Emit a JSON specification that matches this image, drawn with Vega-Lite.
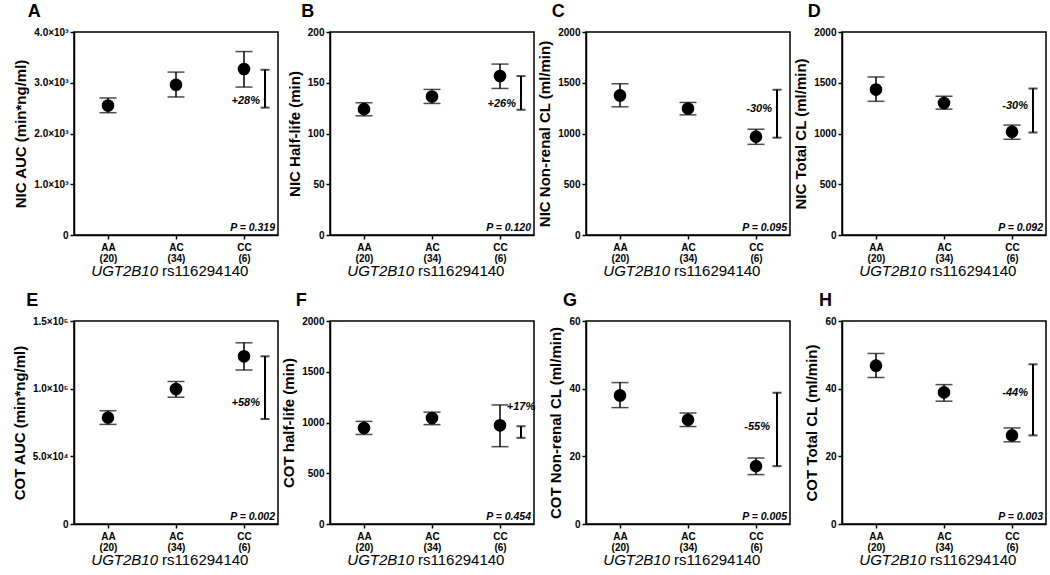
{
"$schema":"https://vega.github.io/schema/vega-lite/v6.json",
"padding":{"left":11,"top":2,"right":0,"bottom":0},
"background":"white",
"columns":4,
"spacing":{"row":86,"column":52},
"bounds":"flush",
"concat":[
{"width":204,"height":203,"title":"A",
 "data":{"values":[{"g":"AA","mean":2550,"lo":2410,"hi":2700},{"g":"AC","mean":2960,"lo":2720,"hi":3210},{"g":"CC","mean":3270,"lo":2915,"hi":3615}]},
 "encoding":{"x":{"field":"g","type":"nominal","scale":{"type":"point","padding":0.5,"domain":["AA","AC","CC"]},"axis":{"title":null,"labelExpr":"datum.value == 'AA' ? ['AA','(20)'] : datum.value == 'AC' ? ['AC','(34)'] : ['CC','(6)']"}}},
 "layer":[
  {"mark":{"type":"rule","color":"black","strokeWidth":1.5},"encoding":{"y":{"field":"lo","type":"quantitative"},"y2":{"field":"hi"}}},
  {"mark":{"type":"tick","color":"black","size":17,"thickness":1.5},"encoding":{"y":{"field":"lo","type":"quantitative"}}},
  {"mark":{"type":"tick","color":"black","size":17,"thickness":1.5},"encoding":{"y":{"field":"hi","type":"quantitative"}}},
  {"mark":{"type":"circle","color":"black","opacity":1,"size":160},"encoding":{"y":{"field":"mean","type":"quantitative","scale":{"domain":[0,4000],"nice":false},"axis":{"title":"NIC AUC (min*ng/ml)","values":[0,1000,2000,3000,4000],"labelExpr":"datum.value == 0 ? '0' : format(datum.value/1000,'.1f') + '×10³'"}}}},
  {"data":{"values":[{"top":3255,"bottom":2510,"pct":"+28%","py":2650,"p":"P = 0.319"}]},
   "layer":[
    {"mark":{"type":"rule","color":"black","strokeWidth":2,"xOffset":21},"encoding":{"x":{"datum":"CC"},"y":{"field":"top","type":"quantitative"},"y2":{"field":"bottom"}}},
    {"mark":{"type":"tick","color":"black","size":9,"thickness":2,"xOffset":21},"encoding":{"x":{"datum":"CC"},"y":{"field":"top","type":"quantitative"}}},
    {"mark":{"type":"tick","color":"black","size":9,"thickness":2,"xOffset":21},"encoding":{"x":{"datum":"CC"},"y":{"field":"bottom","type":"quantitative"}}},
    {"mark":{"type":"text","align":"right","baseline":"middle","dx":16,"fontSize":11,"fontStyle":"italic","fontWeight":"bold"},"encoding":{"x":{"datum":"CC"},"y":{"field":"py","type":"quantitative"},"text":{"field":"pct"}}},
    {"mark":{"type":"text","align":"right","baseline":"alphabetic","dx":31,"dy":-4,"fontSize":10.5,"fontStyle":"italic","fontWeight":"bold"},"encoding":{"x":{"datum":"CC"},"y":{"datum":0},"text":{"field":"p"}}},
    {"mark":{"type":"text","text":"UGT2B10","align":"right","baseline":"middle","dx":-18,"dy":36,"fontSize":15,"fontStyle":"italic"},"encoding":{"x":{"datum":"AC"},"y":{"datum":0}}},
    {"mark":{"type":"text","text":"rs116294140","align":"left","baseline":"middle","dx":-14,"dy":36,"fontSize":15},"encoding":{"x":{"datum":"AC"},"y":{"datum":0}}}
   ]}
 ]},
{"width":204,"height":203,"title":"B",
 "data":{"values":[{"g":"AA","mean":124,"lo":117.4,"hi":130.3},{"g":"AC","mean":136.5,"lo":129.6,"hi":143.4},{"g":"CC","mean":156.6,"lo":144.4,"hi":168.4}]},
 "encoding":{"x":{"field":"g","type":"nominal","scale":{"type":"point","padding":0.5,"domain":["AA","AC","CC"]},"axis":{"title":null,"labelExpr":"datum.value == 'AA' ? ['AA','(20)'] : datum.value == 'AC' ? ['AC','(34)'] : ['CC','(6)']"}}},
 "layer":[
  {"mark":{"type":"rule","color":"black","strokeWidth":1.5},"encoding":{"y":{"field":"lo","type":"quantitative"},"y2":{"field":"hi"}}},
  {"mark":{"type":"tick","color":"black","size":17,"thickness":1.5},"encoding":{"y":{"field":"lo","type":"quantitative"}}},
  {"mark":{"type":"tick","color":"black","size":17,"thickness":1.5},"encoding":{"y":{"field":"hi","type":"quantitative"}}},
  {"mark":{"type":"circle","color":"black","opacity":1,"size":160},"encoding":{"y":{"field":"mean","type":"quantitative","scale":{"domain":[0,200],"nice":false},"axis":{"title":"NIC Half-life (min)","values":[0,50,100,150,200],"format":"d"}}}},
  {"data":{"values":[{"top":156.6,"bottom":123.4,"pct":"+26%","py":129,"p":"P = 0.120"}]},
   "layer":[
    {"mark":{"type":"rule","color":"black","strokeWidth":2,"xOffset":21},"encoding":{"x":{"datum":"CC"},"y":{"field":"top","type":"quantitative"},"y2":{"field":"bottom"}}},
    {"mark":{"type":"tick","color":"black","size":9,"thickness":2,"xOffset":21},"encoding":{"x":{"datum":"CC"},"y":{"field":"top","type":"quantitative"}}},
    {"mark":{"type":"tick","color":"black","size":9,"thickness":2,"xOffset":21},"encoding":{"x":{"datum":"CC"},"y":{"field":"bottom","type":"quantitative"}}},
    {"mark":{"type":"text","align":"right","baseline":"middle","dx":16,"fontSize":11,"fontStyle":"italic","fontWeight":"bold"},"encoding":{"x":{"datum":"CC"},"y":{"field":"py","type":"quantitative"},"text":{"field":"pct"}}},
    {"mark":{"type":"text","align":"right","baseline":"alphabetic","dx":31,"dy":-4,"fontSize":10.5,"fontStyle":"italic","fontWeight":"bold"},"encoding":{"x":{"datum":"CC"},"y":{"datum":0},"text":{"field":"p"}}},
    {"mark":{"type":"text","text":"UGT2B10","align":"right","baseline":"middle","dx":-18,"dy":36,"fontSize":15,"fontStyle":"italic"},"encoding":{"x":{"datum":"AC"},"y":{"datum":0}}},
    {"mark":{"type":"text","text":"rs116294140","align":"left","baseline":"middle","dx":-14,"dy":36,"fontSize":15},"encoding":{"x":{"datum":"AC"},"y":{"datum":0}}}
   ]}
 ]},
{"width":204,"height":203,"title":"C",
 "data":{"values":[{"g":"AA","mean":1375,"lo":1263,"hi":1490},{"g":"AC","mean":1246,"lo":1184,"hi":1306},{"g":"CC","mean":969,"lo":893,"hi":1042}]},
 "encoding":{"x":{"field":"g","type":"nominal","scale":{"type":"point","padding":0.5,"domain":["AA","AC","CC"]},"axis":{"title":null,"labelExpr":"datum.value == 'AA' ? ['AA','(20)'] : datum.value == 'AC' ? ['AC','(34)'] : ['CC','(6)']"}}},
 "layer":[
  {"mark":{"type":"rule","color":"black","strokeWidth":1.5},"encoding":{"y":{"field":"lo","type":"quantitative"},"y2":{"field":"hi"}}},
  {"mark":{"type":"tick","color":"black","size":17,"thickness":1.5},"encoding":{"y":{"field":"lo","type":"quantitative"}}},
  {"mark":{"type":"tick","color":"black","size":17,"thickness":1.5},"encoding":{"y":{"field":"hi","type":"quantitative"}}},
  {"mark":{"type":"circle","color":"black","opacity":1,"size":160},"encoding":{"y":{"field":"mean","type":"quantitative","scale":{"domain":[0,2000],"nice":false},"axis":{"title":"NIC Non-renal CL (ml/min)","values":[0,500,1000,1500,2000],"format":"d"}}}},
  {"data":{"values":[{"top":1431,"bottom":959,"pct":"-30%","py":1240,"p":"P = 0.095"}]},
   "layer":[
    {"mark":{"type":"rule","color":"black","strokeWidth":2,"xOffset":21},"encoding":{"x":{"datum":"CC"},"y":{"field":"top","type":"quantitative"},"y2":{"field":"bottom"}}},
    {"mark":{"type":"tick","color":"black","size":9,"thickness":2,"xOffset":21},"encoding":{"x":{"datum":"CC"},"y":{"field":"top","type":"quantitative"}}},
    {"mark":{"type":"tick","color":"black","size":9,"thickness":2,"xOffset":21},"encoding":{"x":{"datum":"CC"},"y":{"field":"bottom","type":"quantitative"}}},
    {"mark":{"type":"text","align":"right","baseline":"middle","dx":16,"fontSize":11,"fontStyle":"italic","fontWeight":"bold"},"encoding":{"x":{"datum":"CC"},"y":{"field":"py","type":"quantitative"},"text":{"field":"pct"}}},
    {"mark":{"type":"text","align":"right","baseline":"alphabetic","dx":31,"dy":-4,"fontSize":10.5,"fontStyle":"italic","fontWeight":"bold"},"encoding":{"x":{"datum":"CC"},"y":{"datum":0},"text":{"field":"p"}}},
    {"mark":{"type":"text","text":"UGT2B10","align":"right","baseline":"middle","dx":-18,"dy":36,"fontSize":15,"fontStyle":"italic"},"encoding":{"x":{"datum":"AC"},"y":{"datum":0}}},
    {"mark":{"type":"text","text":"rs116294140","align":"left","baseline":"middle","dx":-14,"dy":36,"fontSize":15},"encoding":{"x":{"datum":"AC"},"y":{"datum":0}}}
   ]}
 ]},
{"width":204,"height":203,"title":"D",
 "data":{"values":[{"g":"AA","mean":1433,"lo":1317,"hi":1557},{"g":"AC","mean":1300,"lo":1240,"hi":1367},{"g":"CC","mean":1017,"lo":943,"hi":1083}]},
 "encoding":{"x":{"field":"g","type":"nominal","scale":{"type":"point","padding":0.5,"domain":["AA","AC","CC"]},"axis":{"title":null,"labelExpr":"datum.value == 'AA' ? ['AA','(20)'] : datum.value == 'AC' ? ['AC','(34)'] : ['CC','(6)']"}}},
 "layer":[
  {"mark":{"type":"rule","color":"black","strokeWidth":1.5},"encoding":{"y":{"field":"lo","type":"quantitative"},"y2":{"field":"hi"}}},
  {"mark":{"type":"tick","color":"black","size":17,"thickness":1.5},"encoding":{"y":{"field":"lo","type":"quantitative"}}},
  {"mark":{"type":"tick","color":"black","size":17,"thickness":1.5},"encoding":{"y":{"field":"hi","type":"quantitative"}}},
  {"mark":{"type":"circle","color":"black","opacity":1,"size":160},"encoding":{"y":{"field":"mean","type":"quantitative","scale":{"domain":[0,2000],"nice":false},"axis":{"title":"NIC Total CL (ml/min)","values":[0,500,1000,1500,2000],"format":"d"}}}},
  {"data":{"values":[{"top":1443,"bottom":1010,"pct":"-30%","py":1267,"p":"P = 0.092"}]},
   "layer":[
    {"mark":{"type":"rule","color":"black","strokeWidth":2,"xOffset":21},"encoding":{"x":{"datum":"CC"},"y":{"field":"top","type":"quantitative"},"y2":{"field":"bottom"}}},
    {"mark":{"type":"tick","color":"black","size":9,"thickness":2,"xOffset":21},"encoding":{"x":{"datum":"CC"},"y":{"field":"top","type":"quantitative"}}},
    {"mark":{"type":"tick","color":"black","size":9,"thickness":2,"xOffset":21},"encoding":{"x":{"datum":"CC"},"y":{"field":"bottom","type":"quantitative"}}},
    {"mark":{"type":"text","align":"right","baseline":"middle","dx":16,"fontSize":11,"fontStyle":"italic","fontWeight":"bold"},"encoding":{"x":{"datum":"CC"},"y":{"field":"py","type":"quantitative"},"text":{"field":"pct"}}},
    {"mark":{"type":"text","align":"right","baseline":"alphabetic","dx":31,"dy":-4,"fontSize":10.5,"fontStyle":"italic","fontWeight":"bold"},"encoding":{"x":{"datum":"CC"},"y":{"datum":0},"text":{"field":"p"}}},
    {"mark":{"type":"text","text":"UGT2B10","align":"right","baseline":"middle","dx":-18,"dy":36,"fontSize":15,"fontStyle":"italic"},"encoding":{"x":{"datum":"AC"},"y":{"datum":0}}},
    {"mark":{"type":"text","text":"rs116294140","align":"left","baseline":"middle","dx":-14,"dy":36,"fontSize":15},"encoding":{"x":{"datum":"AC"},"y":{"datum":0}}}
   ]}
 ]},
{"width":204,"height":203,"title":"E",
 "data":{"values":[{"g":"AA","mean":78600,"lo":73600,"hi":83700},{"g":"AC","mean":99700,"lo":93700,"hi":105300},{"g":"CC","mean":123900,"lo":113800,"hi":133900}]},
 "encoding":{"x":{"field":"g","type":"nominal","scale":{"type":"point","padding":0.5,"domain":["AA","AC","CC"]},"axis":{"title":null,"labelExpr":"datum.value == 'AA' ? ['AA','(20)'] : datum.value == 'AC' ? ['AC','(34)'] : ['CC','(6)']"}}},
 "layer":[
  {"mark":{"type":"rule","color":"black","strokeWidth":1.5},"encoding":{"y":{"field":"lo","type":"quantitative"},"y2":{"field":"hi"}}},
  {"mark":{"type":"tick","color":"black","size":17,"thickness":1.5},"encoding":{"y":{"field":"lo","type":"quantitative"}}},
  {"mark":{"type":"tick","color":"black","size":17,"thickness":1.5},"encoding":{"y":{"field":"hi","type":"quantitative"}}},
  {"mark":{"type":"circle","color":"black","opacity":1,"size":160},"encoding":{"y":{"field":"mean","type":"quantitative","scale":{"domain":[0,150000],"nice":false},"axis":{"title":"COT AUC (min*ng/ml)","values":[0,50000,100000,150000],"labelExpr":"datum.value == 0 ? '0' : datum.value < 100000 ? format(datum.value/10000,'.1f') + '×10⁴' : format(datum.value/100000,'.1f') + '×10⁵'"}}}},
  {"data":{"values":[{"top":123900,"bottom":77600,"pct":"+58%","py":89200,"p":"P = 0.002"}]},
   "layer":[
    {"mark":{"type":"rule","color":"black","strokeWidth":2,"xOffset":21},"encoding":{"x":{"datum":"CC"},"y":{"field":"top","type":"quantitative"},"y2":{"field":"bottom"}}},
    {"mark":{"type":"tick","color":"black","size":9,"thickness":2,"xOffset":21},"encoding":{"x":{"datum":"CC"},"y":{"field":"top","type":"quantitative"}}},
    {"mark":{"type":"tick","color":"black","size":9,"thickness":2,"xOffset":21},"encoding":{"x":{"datum":"CC"},"y":{"field":"bottom","type":"quantitative"}}},
    {"mark":{"type":"text","align":"right","baseline":"middle","dx":16,"fontSize":11,"fontStyle":"italic","fontWeight":"bold"},"encoding":{"x":{"datum":"CC"},"y":{"field":"py","type":"quantitative"},"text":{"field":"pct"}}},
    {"mark":{"type":"text","align":"right","baseline":"alphabetic","dx":31,"dy":-4,"fontSize":10.5,"fontStyle":"italic","fontWeight":"bold"},"encoding":{"x":{"datum":"CC"},"y":{"datum":0},"text":{"field":"p"}}},
    {"mark":{"type":"text","text":"UGT2B10","align":"right","baseline":"middle","dx":-18,"dy":36,"fontSize":15,"fontStyle":"italic"},"encoding":{"x":{"datum":"AC"},"y":{"datum":0}}},
    {"mark":{"type":"text","text":"rs116294140","align":"left","baseline":"middle","dx":-14,"dy":36,"fontSize":15},"encoding":{"x":{"datum":"AC"},"y":{"datum":0}}}
   ]}
 ]},
{"width":204,"height":203,"title":"F",
 "data":{"values":[{"g":"AA","mean":946,"lo":882,"hi":1011},{"g":"AC","mean":1044,"lo":979,"hi":1102},{"g":"CC","mean":972,"lo":762,"hi":1173}]},
 "encoding":{"x":{"field":"g","type":"nominal","scale":{"type":"point","padding":0.5,"domain":["AA","AC","CC"]},"axis":{"title":null,"labelExpr":"datum.value == 'AA' ? ['AA','(20)'] : datum.value == 'AC' ? ['AC','(34)'] : ['CC','(6)']"}}},
 "layer":[
  {"mark":{"type":"rule","color":"black","strokeWidth":1.5},"encoding":{"y":{"field":"lo","type":"quantitative"},"y2":{"field":"hi"}}},
  {"mark":{"type":"tick","color":"black","size":17,"thickness":1.5},"encoding":{"y":{"field":"lo","type":"quantitative"}}},
  {"mark":{"type":"tick","color":"black","size":17,"thickness":1.5},"encoding":{"y":{"field":"hi","type":"quantitative"}}},
  {"mark":{"type":"circle","color":"black","opacity":1,"size":160},"encoding":{"y":{"field":"mean","type":"quantitative","scale":{"domain":[0,2000],"nice":false},"axis":{"title":"COT half-life (min)","values":[0,500,1000,1500,2000],"format":"d"}}}},
  {"data":{"values":[{"top":963,"bottom":849,"pct":"+17%","py":1157,"p":"P = 0.454"}]},
   "layer":[
    {"mark":{"type":"rule","color":"black","strokeWidth":2,"xOffset":21},"encoding":{"x":{"datum":"CC"},"y":{"field":"top","type":"quantitative"},"y2":{"field":"bottom"}}},
    {"mark":{"type":"tick","color":"black","size":9,"thickness":2,"xOffset":21},"encoding":{"x":{"datum":"CC"},"y":{"field":"top","type":"quantitative"}}},
    {"mark":{"type":"tick","color":"black","size":9,"thickness":2,"xOffset":21},"encoding":{"x":{"datum":"CC"},"y":{"field":"bottom","type":"quantitative"}}},
    {"mark":{"type":"text","align":"center","baseline":"middle","dx":21,"fontSize":11,"fontStyle":"italic","fontWeight":"bold"},"encoding":{"x":{"datum":"CC"},"y":{"field":"py","type":"quantitative"},"text":{"field":"pct"}}},
    {"mark":{"type":"text","align":"right","baseline":"alphabetic","dx":31,"dy":-4,"fontSize":10.5,"fontStyle":"italic","fontWeight":"bold"},"encoding":{"x":{"datum":"CC"},"y":{"datum":0},"text":{"field":"p"}}},
    {"mark":{"type":"text","text":"UGT2B10","align":"right","baseline":"middle","dx":-18,"dy":36,"fontSize":15,"fontStyle":"italic"},"encoding":{"x":{"datum":"AC"},"y":{"datum":0}}},
    {"mark":{"type":"text","text":"rs116294140","align":"left","baseline":"middle","dx":-14,"dy":36,"fontSize":15},"encoding":{"x":{"datum":"AC"},"y":{"datum":0}}}
   ]}
 ]},
{"width":204,"height":203,"title":"G",
 "data":{"values":[{"g":"AA","mean":38.0,"lo":34.4,"hi":41.8},{"g":"AC","mean":30.8,"lo":28.8,"hi":32.8},{"g":"CC","mean":17.1,"lo":14.6,"hi":19.5}]},
 "encoding":{"x":{"field":"g","type":"nominal","scale":{"type":"point","padding":0.5,"domain":["AA","AC","CC"]},"axis":{"title":null,"labelExpr":"datum.value == 'AA' ? ['AA','(20)'] : datum.value == 'AC' ? ['AC','(34)'] : ['CC','(6)']"}}},
 "layer":[
  {"mark":{"type":"rule","color":"black","strokeWidth":1.5},"encoding":{"y":{"field":"lo","type":"quantitative"},"y2":{"field":"hi"}}},
  {"mark":{"type":"tick","color":"black","size":17,"thickness":1.5},"encoding":{"y":{"field":"lo","type":"quantitative"}}},
  {"mark":{"type":"tick","color":"black","size":17,"thickness":1.5},"encoding":{"y":{"field":"hi","type":"quantitative"}}},
  {"mark":{"type":"circle","color":"black","opacity":1,"size":160},"encoding":{"y":{"field":"mean","type":"quantitative","scale":{"domain":[0,60],"nice":false},"axis":{"title":"COT Non-renal CL (ml/min)","values":[0,20,40,60],"format":"d"}}}},
  {"data":{"values":[{"top":38.8,"bottom":17.1,"pct":"-55%","py":28.6,"p":"P = 0.005"}]},
   "layer":[
    {"mark":{"type":"rule","color":"black","strokeWidth":2,"xOffset":21},"encoding":{"x":{"datum":"CC"},"y":{"field":"top","type":"quantitative"},"y2":{"field":"bottom"}}},
    {"mark":{"type":"tick","color":"black","size":9,"thickness":2,"xOffset":21},"encoding":{"x":{"datum":"CC"},"y":{"field":"top","type":"quantitative"}}},
    {"mark":{"type":"tick","color":"black","size":9,"thickness":2,"xOffset":21},"encoding":{"x":{"datum":"CC"},"y":{"field":"bottom","type":"quantitative"}}},
    {"mark":{"type":"text","align":"right","baseline":"middle","dx":14,"fontSize":11,"fontStyle":"italic","fontWeight":"bold"},"encoding":{"x":{"datum":"CC"},"y":{"field":"py","type":"quantitative"},"text":{"field":"pct"}}},
    {"mark":{"type":"text","align":"right","baseline":"alphabetic","dx":31,"dy":-4,"fontSize":10.5,"fontStyle":"italic","fontWeight":"bold"},"encoding":{"x":{"datum":"CC"},"y":{"datum":0},"text":{"field":"p"}}},
    {"mark":{"type":"text","text":"UGT2B10","align":"right","baseline":"middle","dx":-18,"dy":36,"fontSize":15,"fontStyle":"italic"},"encoding":{"x":{"datum":"AC"},"y":{"datum":0}}},
    {"mark":{"type":"text","text":"rs116294140","align":"left","baseline":"middle","dx":-14,"dy":36,"fontSize":15},"encoding":{"x":{"datum":"AC"},"y":{"datum":0}}}
   ]}
 ]},
{"width":204,"height":203,"title":"H",
 "data":{"values":[{"g":"AA","mean":46.8,"lo":43.3,"hi":50.4},{"g":"AC","mean":38.9,"lo":36.3,"hi":41.2},{"g":"CC","mean":26.2,"lo":24.3,"hi":28.4}]},
 "encoding":{"x":{"field":"g","type":"nominal","scale":{"type":"point","padding":0.5,"domain":["AA","AC","CC"]},"axis":{"title":null,"labelExpr":"datum.value == 'AA' ? ['AA','(20)'] : datum.value == 'AC' ? ['AC','(34)'] : ['CC','(6)']"}}},
 "layer":[
  {"mark":{"type":"rule","color":"black","strokeWidth":1.5},"encoding":{"y":{"field":"lo","type":"quantitative"},"y2":{"field":"hi"}}},
  {"mark":{"type":"tick","color":"black","size":17,"thickness":1.5},"encoding":{"y":{"field":"lo","type":"quantitative"}}},
  {"mark":{"type":"tick","color":"black","size":17,"thickness":1.5},"encoding":{"y":{"field":"hi","type":"quantitative"}}},
  {"mark":{"type":"circle","color":"black","opacity":1,"size":160},"encoding":{"y":{"field":"mean","type":"quantitative","scale":{"domain":[0,60],"nice":false},"axis":{"title":"COT Total CL (ml/min)","values":[0,20,40,60],"format":"d"}}}},
  {"data":{"values":[{"top":47.2,"bottom":26.2,"pct":"-44%","py":38.7,"p":"P = 0.003"}]},
   "layer":[
    {"mark":{"type":"rule","color":"black","strokeWidth":2,"xOffset":21},"encoding":{"x":{"datum":"CC"},"y":{"field":"top","type":"quantitative"},"y2":{"field":"bottom"}}},
    {"mark":{"type":"tick","color":"black","size":9,"thickness":2,"xOffset":21},"encoding":{"x":{"datum":"CC"},"y":{"field":"top","type":"quantitative"}}},
    {"mark":{"type":"tick","color":"black","size":9,"thickness":2,"xOffset":21},"encoding":{"x":{"datum":"CC"},"y":{"field":"bottom","type":"quantitative"}}},
    {"mark":{"type":"text","align":"right","baseline":"middle","dx":16,"fontSize":11,"fontStyle":"italic","fontWeight":"bold"},"encoding":{"x":{"datum":"CC"},"y":{"field":"py","type":"quantitative"},"text":{"field":"pct"}}},
    {"mark":{"type":"text","align":"right","baseline":"alphabetic","dx":31,"dy":-4,"fontSize":10.5,"fontStyle":"italic","fontWeight":"bold"},"encoding":{"x":{"datum":"CC"},"y":{"datum":0},"text":{"field":"p"}}},
    {"mark":{"type":"text","text":"UGT2B10","align":"right","baseline":"middle","dx":-18,"dy":36,"fontSize":15,"fontStyle":"italic"},"encoding":{"x":{"datum":"AC"},"y":{"datum":0}}},
    {"mark":{"type":"text","text":"rs116294140","align":"left","baseline":"middle","dx":-14,"dy":36,"fontSize":15},"encoding":{"x":{"datum":"AC"},"y":{"datum":0}}}
   ]}
 ]}
],
"config":{
 "font":"Liberation Sans",
 "view":{"stroke":"black","strokeWidth":1.5},
 "axis":{"domainColor":"black","domainWidth":1.5,"tickColor":"black","tickWidth":1.5,"tickSize":4,"labelColor":"black","titleColor":"black","labelFont":"Liberation Sans","labelFontSize":10,"labelFontWeight":"bold","titleFont":"Liberation Sans","titleFontSize":15,"titleFontWeight":"bold","grid":false,"labelPadding":2,"titlePadding":5},
 "axisX":{"labelAngle":0,"labelLineHeight":11,"labelPadding":3},
 "title":{"fontSize":18,"fontWeight":"bold","anchor":"start","dx":14,"offset":6,"color":"black","font":"Liberation Sans"},
 "text":{"color":"black","font":"Liberation Sans"}
}
}
